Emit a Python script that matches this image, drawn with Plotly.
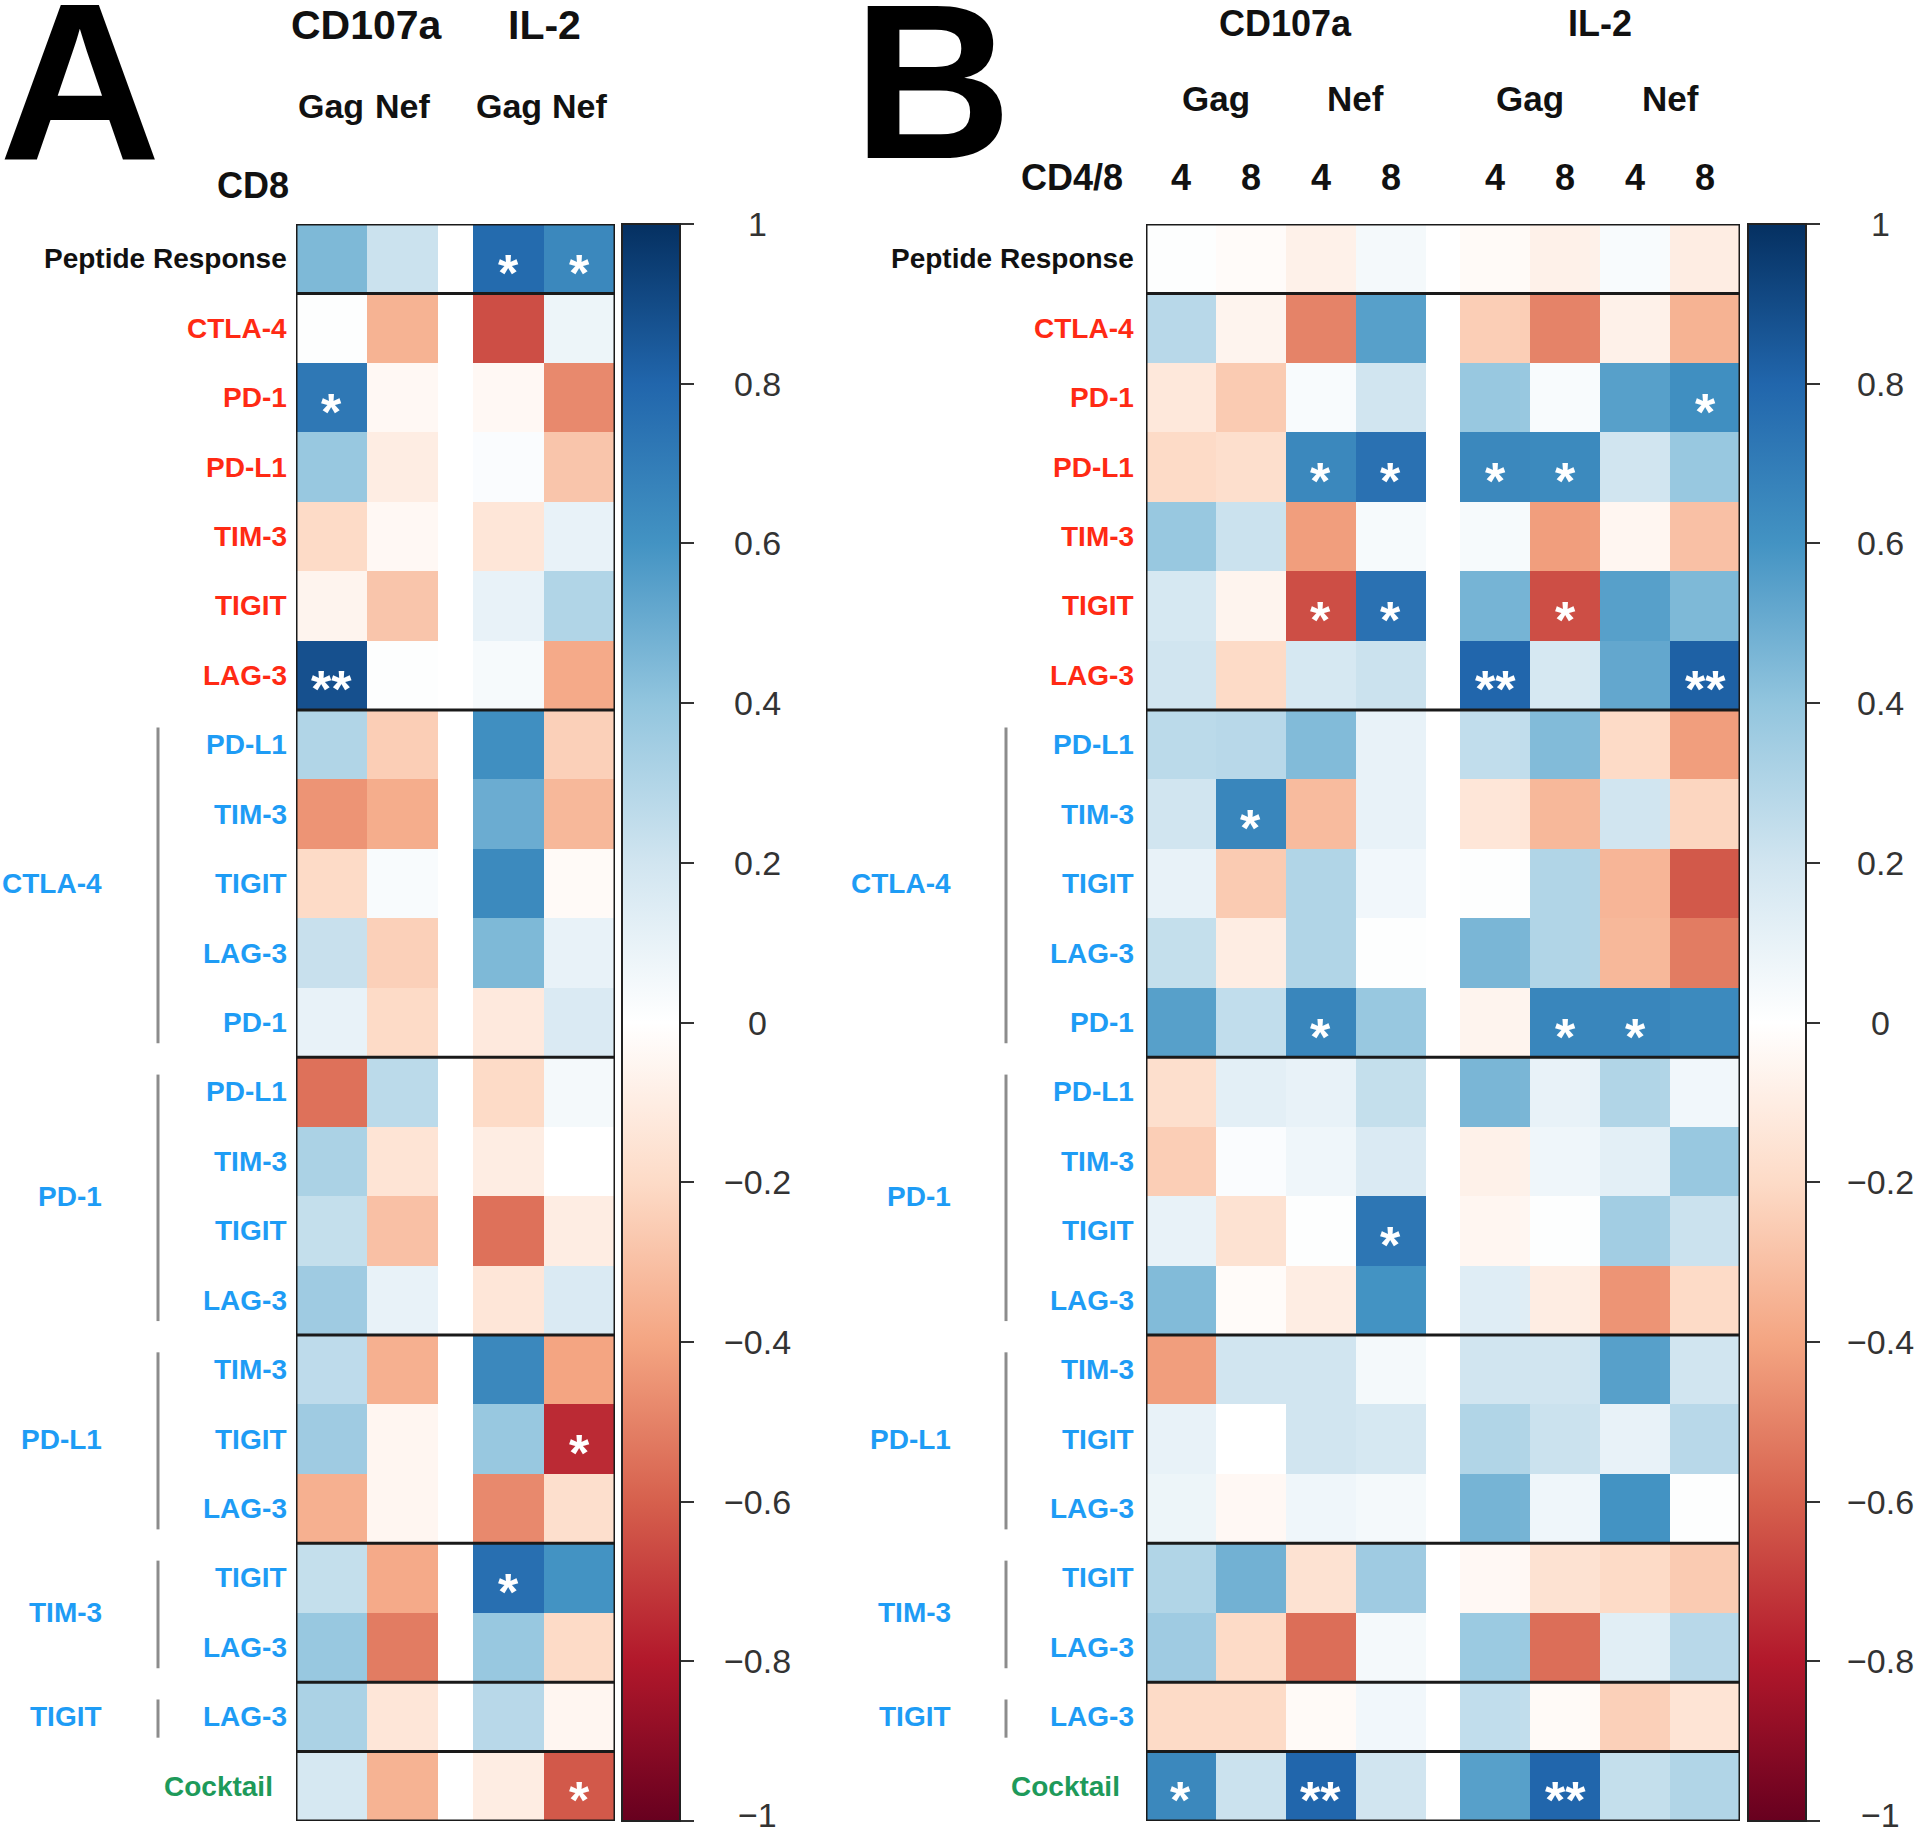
import plotly.graph_objects as go

W, H = 1920, 1837

# ---------------- data ----------------
ROWS = ["Peptide Response", "CTLA-4", "PD-1", "PD-L1", "TIM-3", "TIGIT", "LAG-3",
        "PD-L1", "TIM-3", "TIGIT", "LAG-3", "PD-1",
        "PD-L1", "TIM-3", "TIGIT", "LAG-3",
        "TIM-3", "TIGIT", "LAG-3",
        "TIGIT", "LAG-3",
        "LAG-3",
        "Cocktail"]
ROW_KIND = ["peptide"] + ["single"] * 6 + ["pair"] * 15 + ["cocktail"]
GROUPS = [("CTLA-4", 7, 11), ("PD-1", 12, 15), ("PD-L1", 16, 18), ("TIM-3", 19, 20), ("TIGIT", 21, 21)]
SEPARATORS = [0, 6, 11, 15, 18, 20, 21]   # a line is drawn below these rows

# Panel A (CD8): CD107a Gag, CD107a Nef, IL-2 Gag, IL-2 Nef
A_CD107A_GAG = [0.45, 0.01, 0.72, 0.38, -0.20, -0.06, 0.88, 0.30, -0.45, -0.20, 0.23, 0.10,
                -0.55, 0.32, 0.24, 0.36, 0.26, 0.36, -0.36, 0.24, 0.38, 0.32, 0.18]
A_CD107A_NEF = [0.22, -0.35, -0.04, -0.10, -0.04, -0.28, 0.01, -0.25, -0.37, 0.03, -0.24, -0.20,
                0.27, -0.15, -0.30, 0.10, -0.36, -0.05, -0.05, -0.38, -0.52, -0.14, -0.35]
A_IL2_GAG = [0.78, -0.65, -0.04, 0.02, -0.14, 0.10, 0.04, 0.62, 0.50, 0.64, 0.45, -0.12,
             -0.20, -0.10, -0.55, -0.14, 0.65, 0.38, -0.48, 0.76, 0.38, 0.28, -0.10]
A_IL2_NEF = [0.65, 0.08, -0.48, -0.28, 0.10, 0.30, -0.38, -0.24, -0.33, -0.03, 0.10, 0.16,
             0.05, 0.00, -0.10, 0.16, -0.40, -0.75, -0.18, 0.60, -0.20, -0.05, -0.62]
A_COLUMNS = [A_CD107A_GAG, A_CD107A_NEF, A_IL2_GAG, A_IL2_NEF]
A_HEAD1 = [("CD107a", 0, 1), ("IL-2", 2, 3)]
A_HEAD2 = ["Gag", "Nef", "Gag", "Nef"]
A_SIG = [(0, 2, "*"), (0, 3, "*"), (2, 0, "*"), (6, 0, "**"), (17, 3, "*"), (19, 2, "*"), (22, 3, "*")]

# Panel B: CD107a Gag CD4, Gag CD8, Nef CD4, Nef CD8 | IL-2 Gag CD4, Gag CD8, Nef CD4, Nef CD8
B_CD107A_GAG4 = [0.01, 0.28, -0.13, -0.20, 0.38, 0.18, 0.20, 0.27, 0.20, 0.10, 0.24, 0.55,
                 -0.18, -0.25, 0.10, 0.44, -0.42, 0.10, 0.08, 0.30, 0.36, -0.20, 0.65]
B_CD107A_GAG8 = [-0.02, -0.06, -0.26, -0.18, 0.22, -0.06, -0.20, 0.28, 0.66, -0.26, -0.10, 0.25,
                 0.12, 0.02, -0.16, -0.02, 0.20, 0.00, -0.04, 0.48, -0.20, -0.20, 0.22]
B_CD107A_NEF4 = [-0.08, -0.50, 0.03, 0.65, -0.42, -0.65, 0.18, 0.44, -0.32, 0.30, 0.30, 0.66,
                 0.10, 0.07, 0.01, -0.10, 0.20, 0.20, 0.07, -0.16, -0.56, -0.03, 0.80]
B_CD107A_NEF8 = [0.05, 0.55, 0.20, 0.75, 0.04, 0.75, 0.22, 0.10, 0.10, 0.06, 0.01, 0.38,
                 0.24, 0.16, 0.73, 0.60, 0.05, 0.18, 0.05, 0.36, 0.05, 0.06, 0.20]
B_IL2_GAG4 = [-0.03, -0.25, 0.38, 0.65, 0.04, 0.47, 0.80, 0.25, -0.14, 0.01, 0.46, -0.06,
              0.46, -0.08, -0.05, 0.14, 0.20, 0.30, 0.47, -0.04, 0.37, 0.25, 0.55]
B_IL2_GAG8 = [-0.08, -0.50, 0.03, 0.64, -0.42, -0.65, 0.18, 0.44, -0.33, 0.30, 0.30, 0.66,
              0.10, 0.07, 0.01, -0.10, 0.20, 0.22, 0.07, -0.16, -0.56, -0.03, 0.80]
B_IL2_NEF4 = [0.03, -0.08, 0.55, 0.20, -0.05, 0.55, 0.52, -0.20, 0.20, -0.34, -0.33, 0.66,
              0.30, 0.12, 0.35, -0.45, 0.55, 0.10, 0.60, -0.20, 0.13, -0.24, 0.24]
B_IL2_NEF8 = [-0.10, -0.35, 0.62, 0.38, -0.30, 0.45, 0.82, -0.42, -0.22, -0.62, -0.52, 0.64,
              0.06, 0.38, 0.22, -0.20, 0.20, 0.28, 0.01, -0.26, 0.28, -0.15, 0.30]
B_COLUMNS = [B_CD107A_GAG4, B_CD107A_GAG8, B_CD107A_NEF4, B_CD107A_NEF8,
             B_IL2_GAG4, B_IL2_GAG8, B_IL2_NEF4, B_IL2_NEF8]
B_HEAD1 = [("CD107a", 0, 3), ("IL-2", 4, 7)]
B_HEAD2 = [("Gag", 0, 1), ("Nef", 2, 3), ("Gag", 4, 5), ("Nef", 6, 7)]
B_HEAD3 = ["4", "8", "4", "8", "4", "8", "4", "8"]
B_SIG = [(2, 7, "*"), (3, 2, "*"), (3, 3, "*"), (3, 4, "*"), (3, 5, "*"),
         (5, 2, "*"), (5, 3, "*"), (5, 5, "*"), (6, 4, "**"), (6, 7, "**"),
         (8, 1, "*"), (11, 2, "*"), (11, 5, "*"), (11, 6, "*"), (14, 3, "*"),
         (22, 0, "*"), (22, 2, "**"), (22, 5, "**")]

CB_TICKS = [1, 0.8, 0.6, 0.4, 0.2, 0, -0.2, -0.4, -0.6, -0.8, -1]

RDBU = [[0.0, "#67001F"], [0.1, "#B2182B"], [0.2, "#D6604D"], [0.3, "#F4A582"], [0.4, "#FDDBC7"],
        [0.5, "#FFFFFF"], [0.6, "#D1E5F0"], [0.7, "#92C5DE"], [0.8, "#4393C3"], [0.9, "#2166AC"],
        [1.0, "#053061"]]

# ---------------- helpers ----------------
FONT = "Liberation Sans, Arial, Helvetica, sans-serif"
KIND_COLOR = {"peptide": "#111111", "single": "#FF2A14", "pair": "#1E9CF5", "cocktail": "#1E9A5A"}


def px_x(p):
    return p / W


def px_y(p):
    return 1 - p / H


def build(columns, half_after):
    """Insert an empty half-width column after index half_after; return z, edges, centers."""
    n = len(columns)
    z = []
    for r in range(len(ROWS)):
        row = []
        for c in range(n):
            row.append(columns[c][r])
            if c == half_after:
                row.append(None)
        z.append(row)
    edges = [0.0]
    centers = []
    for c in range(n):
        centers.append(edges[-1] + 0.5)
        edges.append(edges[-1] + 1.0)
        if c == half_after:
            edges.append(edges[-1] + 0.5)
    return z, edges, centers


zA, edgesA, centA = build(A_COLUMNS, 1)
zB, edgesB, centB = build(B_COLUMNS, 3)

Y_TOP, Y_BOT = 224, 1821
ydom = [px_y(Y_BOT), px_y(Y_TOP)]
rows_idx = list(range(len(ROWS)))

fig = go.Figure()

cb_common = dict(thickness=58, thicknessmode="pixels", len=(Y_BOT - Y_TOP) / H, lenmode="fraction",
                 y=(ydom[0] + ydom[1]) / 2, yanchor="middle", xanchor="left", xpad=0, ypad=0,
                 outlinewidth=2, outlinecolor="#222222", ticks="outside", ticklen=13, tickwidth=2,
                 tickcolor="#333333", tickvals=CB_TICKS, showticklabels=False)

fig.add_trace(go.Heatmap(z=zA, x=edgesA, y=rows_idx, xaxis="x", yaxis="y", colorscale=RDBU,
                         zmin=-1, zmax=1, hoverinfo="skip",
                         colorbar=dict(x=px_x(622), **cb_common)))
fig.add_trace(go.Heatmap(z=zB, x=edgesB, y=rows_idx, xaxis="x2", yaxis="y", colorscale=RDBU,
                         zmin=-1, zmax=1, hoverinfo="skip",
                         colorbar=dict(x=px_x(1748), **cb_common)))
# invisible helper trace for the colour-bar label axis
fig.add_trace(go.Scatter(x=[0], y=[0], xaxis="x3", yaxis="y3", mode="markers",
                         marker=dict(opacity=0), hoverinfo="skip", showlegend=False))

hidden = dict(showgrid=False, zeroline=False, showticklabels=False, ticks="", showline=False)
fig.update_layout(
    width=W, height=H, margin=dict(l=0, r=0, t=0, b=0),
    paper_bgcolor="white", plot_bgcolor="white", showlegend=False,
    xaxis=dict(domain=[px_x(296), px_x(615)], range=[0, edgesA[-1]], anchor="y", **hidden),
    xaxis2=dict(domain=[px_x(1146), px_x(1740)], range=[0, edgesB[-1]], anchor="y", **hidden),
    yaxis=dict(domain=ydom, range=[len(ROWS) - 0.5, -0.5], anchor="x", **hidden),
    xaxis3=dict(domain=[0, 0.01], range=[0, 1], anchor="y3", visible=False),
    yaxis3=dict(domain=ydom, range=[-1, 1], anchor="x3", visible=False),
)

ann = []
shapes = []


def bold(size, color="#111111"):
    return dict(family=FONT, size=size, color=color, weight="bold")


def fmt(v):
    s = ("%g" % v)
    return s.replace("-", "\u2212")


# big panel letters
ann.append(dict(text="A", x=px_x(80), y=px_y(82), xref="paper", yref="paper", showarrow=False,
                font=bold(224, "#000000"), xanchor="center", yanchor="middle", borderpad=0))
ann.append(dict(text="B", x=px_x(932), y=px_y(82), xref="paper", yref="paper", showarrow=False,
                font=bold(220, "#000000"), xanchor="center", yanchor="middle", borderpad=0))

# panel headers
for txt, c0, c1 in A_HEAD1:
    ann.append(dict(text=txt, x=(centA[c0] + centA[c1]) / 2, y=px_y(25), xref="x", yref="paper",
                    showarrow=False, font=bold(41), xanchor="center", yanchor="middle", borderpad=0))
for c, txt in enumerate(A_HEAD2):
    ann.append(dict(text=txt, x=centA[c], y=px_y(106), xref="x", yref="paper",
                    showarrow=False, font=bold(34), xanchor="center", yanchor="middle"))
ann.append(dict(text="CD8", x=px_x(291), y=px_y(185), xref="paper", yref="paper",
                showarrow=False, font=bold(36), xanchor="right", yanchor="middle"))

for txt, c0, c1 in B_HEAD1:
    ann.append(dict(text=txt, x=(centB[c0] + centB[c1]) / 2, y=px_y(24), xref="x2", yref="paper",
                    showarrow=False, font=bold(36), xanchor="center", yanchor="middle", borderpad=0))
for txt, c0, c1 in B_HEAD2:
    ann.append(dict(text=txt, x=(centB[c0] + centB[c1]) / 2, y=px_y(99), xref="x2", yref="paper",
                    showarrow=False, font=bold(35), xanchor="center", yanchor="middle"))
for c, txt in enumerate(B_HEAD3):
    ann.append(dict(text=txt, x=centB[c], y=px_y(178), xref="x2", yref="paper",
                    showarrow=False, font=bold(36), xanchor="center", yanchor="middle"))
ann.append(dict(text="CD4/8", x=px_x(1125), y=px_y(178), xref="paper", yref="paper",
                showarrow=False, font=bold(36), xanchor="right", yanchor="middle"))

# row labels, group labels, group lines
for label_right, group_right, line_x in [(289, 104, 158), (1136, 953, 1006)]:
    for i, (name, kind) in enumerate(zip(ROWS, ROW_KIND)):
        ann.append(dict(text=name, x=px_x(label_right), y=i, xref="paper", yref="y",
                        showarrow=False, font=bold(28, KIND_COLOR[kind]), xanchor="right",
                        yanchor="middle", xshift=-14 if kind == "cocktail" else 0))
    for gname, r0, r1 in GROUPS:
        ann.append(dict(text=gname, x=px_x(group_right), y=(r0 + r1) / 2, xref="paper", yref="y",
                        showarrow=False, font=bold(28, KIND_COLOR["pair"]), xanchor="right",
                        yanchor="middle"))
        shapes.append(dict(type="line", xref="paper", yref="y", x0=px_x(line_x), x1=px_x(line_x),
                           y0=r0 - 0.5 + 0.25, y1=r1 + 0.5 - 0.2,
                           line=dict(color="#8C8C8C", width=3)))

# significance stars
for sig, cents, xr in [(A_SIG, centA, "x"), (B_SIG, centB, "x2")]:
    for r, c, s in sig:
        ann.append(dict(text=s, x=cents[c], y=r, xref=xr, yref="y", showarrow=False,
                        font=bold(52, "#FFFFFF"), xanchor="center", yanchor="middle", yshift=-14,
                        borderpad=0))

# frames and separators
for xr, edges in [("x", edgesA), ("x2", edgesB)]:
    shapes.append(dict(type="rect", xref=xr, yref="y", x0=0, x1=edges[-1], y0=-0.5,
                       y1=len(ROWS) - 0.5, line=dict(color="#1A1A1A", width=3)))
    for s in SEPARATORS:
        shapes.append(dict(type="line", xref=xr, yref="y", x0=0, x1=edges[-1], y0=s + 0.5,
                           y1=s + 0.5, line=dict(color="#1A1A1A", width=3)))

# colour-bar tick labels
for lx in [757, 1880]:
    for v in CB_TICKS:
        ann.append(dict(text=fmt(v), x=px_x(lx), y=v, xref="paper", yref="y3", showarrow=False,
                        font=dict(family=FONT, size=34, color="#333333"),
                        xanchor="center", yanchor="middle", borderpad=0,
                        yshift=6 if v == -1 else 0))

fig.update_layout(annotations=ann, shapes=shapes)
fig.write_html("out.html", config={"displayModeBar": False},
               post_script="document.body.style.margin='0px';")
